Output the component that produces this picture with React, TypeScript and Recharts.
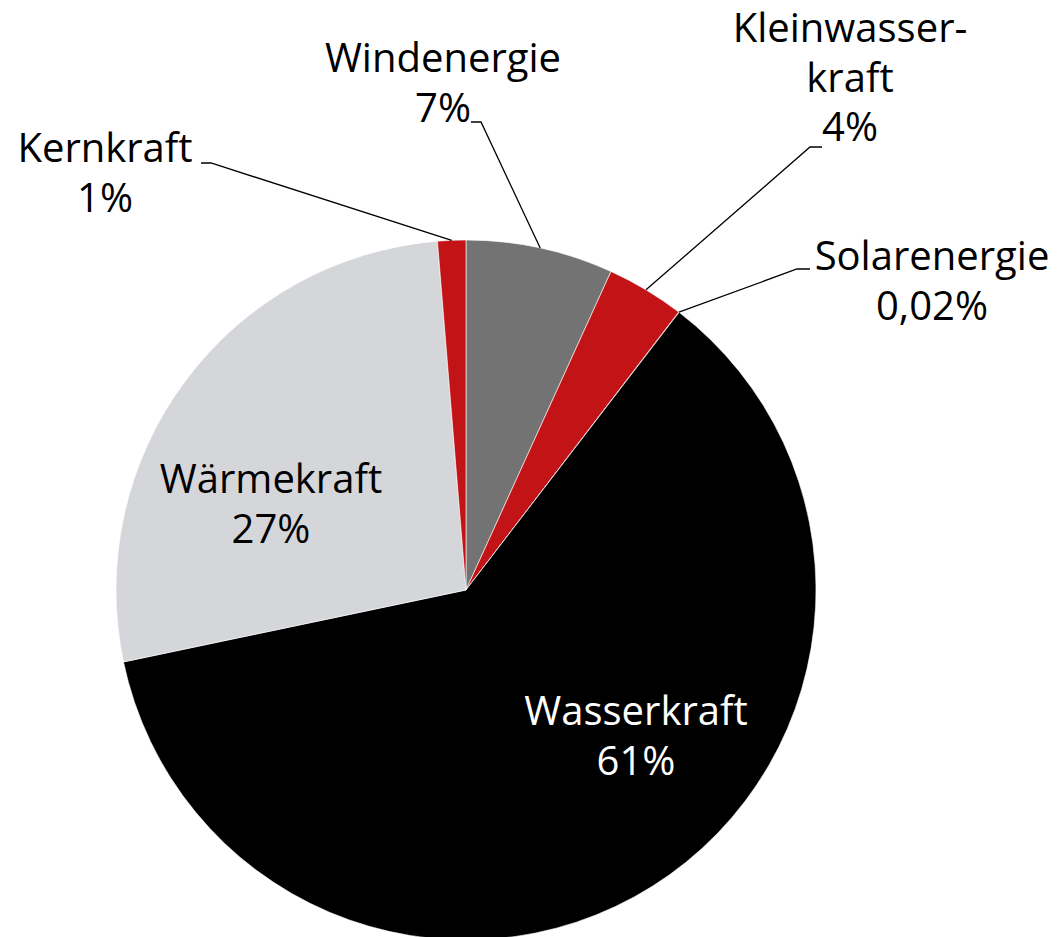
import React from 'react';
import { PieChart, Pie, Cell } from 'recharts';

// ---- data ----
const categories = ['Windenergie', 'Kleinwasserkraft', 'Solarenergie', 'Wasserkraft', 'Wärmekraft', 'Kernkraft'];
const shares = [6.8, 3.6, 0.02, 61.3, 27.0, 1.3];
const labelNameLines = [
  ['Windenergie'],
  ['Kleinwasser-', 'kraft'],
  ['Solarenergie'],
  ['Wasserkraft'],
  ['Wärmekraft'],
  ['Kernkraft'],
];
const sliceColors = ['#737373', '#C21416', '#C21416', '#000000', '#D5D6DA', '#C21416'];
const labelColors = ['#000', '#000', '#000', '#fff', '#000', '#000'];

const data = categories.map((name, i) => ({ name, value: shares[i] }));

// ---- label layout (offsets relative to the pie centre) ----
type Layout = { x: number; y: number; leader?: [number, number][] };
const labelLayout: Layout[] = [
  { x: -23, y: -518, leader: [[15, -468], [5, -468]] },
  { x: 384, y: -548, leader: [[344, -443], [356, -443]] },
  { x: 466, y: -320, leader: [[331, -321], [344, -321]] },
  { x: 170, y: 135 },
  { x: -195, y: -97 },
  { x: -361, y: -428, leader: [[-255, -427], [-265, -427]] },
];
const LINE_HEIGHT = 49.5;
const FONT = '"Open Sans", sans-serif';
const RAD = Math.PI / 180;

const formatShare = (v: number) =>
  v < 1 ? `${v.toFixed(2).replace('.', ',')}%` : `${Math.round(v)}%`;

const renderLabel = (props: any) => {
  const { cx, cy, midAngle, outerRadius, index, value } = props;
  const lay = labelLayout[index];
  const lines = [...labelNameLines[index], formatShare(value)];
  const ex = cx + outerRadius * Math.cos(-midAngle * RAD);
  const ey = cy + outerRadius * Math.sin(-midAngle * RAD);
  let pts = '';
  if (lay.leader) {
    pts = [[ex, ey], ...lay.leader.map(([dx, dy]) => [cx + dx, cy + dy])]
      .map((p) => `${p[0]},${p[1]}`)
      .join(' ');
  }
  const tx = cx + lay.x;
  return (
    <g key={`lbl-${index}`}>
      {lay.leader && (
        <polyline points={pts} fill="none" stroke="#000" strokeWidth={1.3} />
      )}
      <text
        x={tx}
        y={cy + lay.y}
        textAnchor="middle"
        fontFamily={FONT}
        fontSize={40}
        fill={labelColors[index]}
      >
        {lines.map((t, k) => (
          <tspan key={k} x={tx} dy={k === 0 ? 0 : LINE_HEIGHT}>
            {t}
          </tspan>
        ))}
      </text>
    </g>
  );
};

export default function App() {
  return (
    <div
      style={{
        position: 'absolute',
        left: 0,
        top: 0,
        width: 1059,
        height: 937,
        overflow: 'hidden',
        background: '#fff',
      }}
    >
      <PieChart width={1059} height={937} margin={{ top: 0, right: 0, bottom: 0, left: 0 }}>
        <Pie
          data={data}
          dataKey="value"
          nameKey="name"
          cx={466}
          cy={590}
          outerRadius={350}
          innerRadius={0}
          startAngle={90}
          endAngle={-270}
          stroke="#ffffff"
          strokeWidth={0.6}
          label={renderLabel}
          labelLine={false}
          isAnimationActive={false}
        >
          {data.map((d, i) => (
            <Cell key={d.name} fill={sliceColors[i]} />
          ))}
        </Pie>
      </PieChart>
    </div>
  );
}
